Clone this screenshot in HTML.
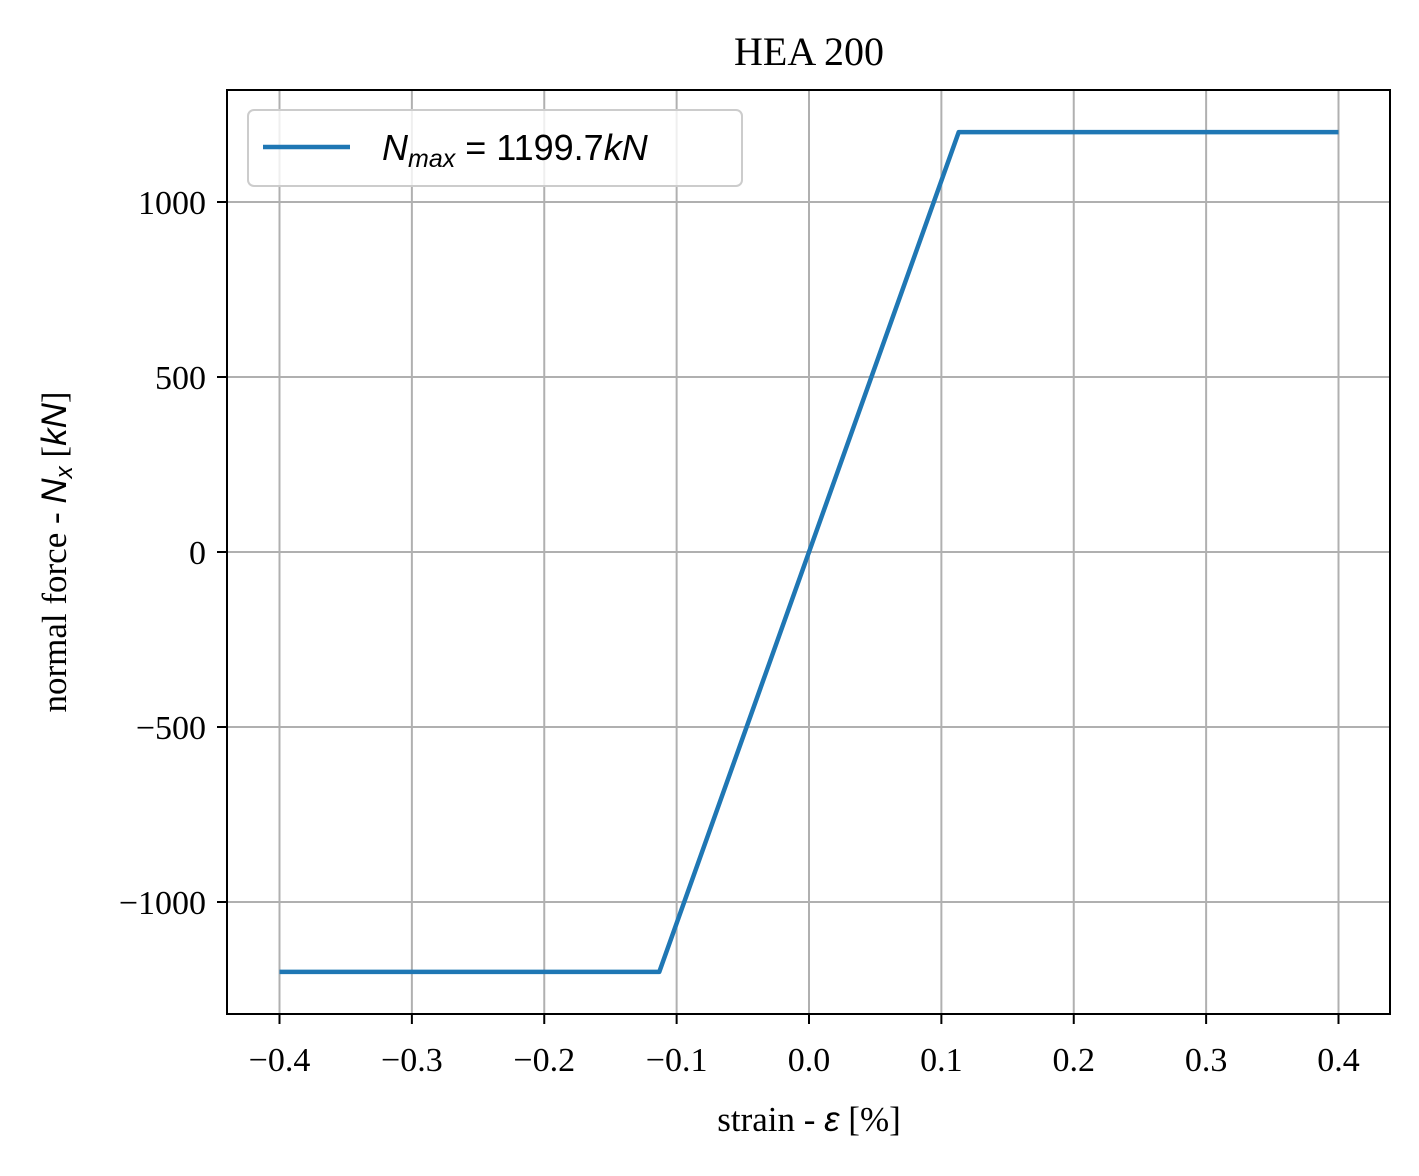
<!DOCTYPE html>
<html><head><meta charset="utf-8"><style>
body{margin:0;background:#fff}
svg text{font-family:"Liberation Serif",serif;fill:#000}
</style></head><body>
<svg id="chart" width="1419" height="1171" xmlns="http://www.w3.org/2000/svg">
<rect width="1419" height="1171" fill="#fff"/>
<g id="grid"></g>
<g id="ticks"></g>
<polyline id="series" fill="none" stroke="#1f77b4" stroke-width="4.5" stroke-linejoin="round"/>
<rect x="227" y="90" width="1163" height="924" fill="none" stroke="#000" stroke-width="2"/>
<text x="809" y="65" font-size="40" text-anchor="middle">HEA 200</text>
<text x="809" y="1131" font-size="35" text-anchor="middle">strain - <tspan font-family="Liberation Sans,sans-serif" font-style="italic">ε</tspan> [%]</text>
<text transform="translate(66,552) rotate(-90)" font-size="35" text-anchor="middle">normal force - <tspan font-family="Liberation Sans,sans-serif" font-style="italic">N</tspan><tspan font-family="Liberation Sans,sans-serif" font-style="italic" font-size="24" dy="6">x</tspan><tspan dy="-6"> [</tspan><tspan font-family="Liberation Sans,sans-serif" font-style="italic">kN</tspan>]</text>
<g>
<rect x="248" y="110" width="494" height="76" rx="6" fill="#fff" fill-opacity="0.8" stroke="#ccc" stroke-width="2"/>
<line x1="263" y1="147" x2="350" y2="147" stroke="#1f77b4" stroke-width="4.5"/>
<text x="382" y="160" font-size="36" style="font-family:'Liberation Sans',sans-serif"><tspan font-style="italic">N</tspan><tspan font-style="italic" font-size="25" dy="7">max</tspan><tspan dy="-7"> = 1199.7</tspan><tspan font-style="italic">kN</tspan></text>
</g>
</svg>
<script>
const xTicks=[-0.4,-0.3,-0.2,-0.1,0.0,0.1,0.2,0.3,0.4];
const yTicks=[-1000,-500,0,500,1000];
const strain=[-0.4,-0.1131,0.1131,0.4];
const force=[-1199.7,-1199.7,1199.7,1199.7];
const X=v=>809+v*1323.75;
const Y=v=>552-v*0.35;
const NS="http://www.w3.org/2000/svg";
const grid=document.getElementById('grid'),ticks=document.getElementById('ticks');
function mk(tag,attrs,parent,txt){const e=document.createElementNS(NS,tag);for(const k in attrs)e.setAttribute(k,attrs[k]);if(txt!==undefined)e.textContent=txt;parent.appendChild(e);return e;}
xTicks.forEach(t=>{const x=X(t);
 const g=mk('line',{x1:x,x2:x,y1:90,y2:1014,stroke:'#b0b0b0','stroke-width':2},grid);
 
 
 mk('line',{x1:x,x2:x,y1:1014,y2:1024,stroke:'#000','stroke-width':2},ticks);
 const l=mk('text',{x:x,y:1071,'font-size':34,'text-anchor':'middle'},ticks,(t<0?'−':'')+Math.abs(t).toFixed(1));
 
 
});
yTicks.forEach(t=>{const y=Y(t);
 const g=mk('line',{x1:227,x2:1390,y1:y,y2:y,stroke:'#b0b0b0','stroke-width':2},grid);
 
 
 mk('line',{x1:217,x2:227,y1:y,y2:y,stroke:'#000','stroke-width':2},ticks);
 const l=mk('text',{x:206,y:y+12,'font-size':34,'text-anchor':'end'},ticks,(t<0?'−':'')+Math.abs(t));
 
 
});
document.getElementById('series').setAttribute('points',strain.map((s,i)=>X(s)+','+Y(force[i])).join(' '));
</script>
</body></html>
